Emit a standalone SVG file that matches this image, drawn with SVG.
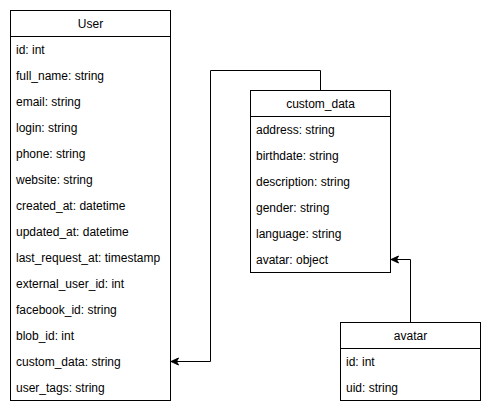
<svg xmlns="http://www.w3.org/2000/svg" width="491" height="414" viewBox="0 0 491 414">
<style>
.box{fill:#fff;stroke:#000;stroke-width:1}
.ln{stroke:#000;stroke-width:1;fill:none}
.t{font-family:"Liberation Sans",Arial,sans-serif;font-size:12px;fill:#000}
.h{text-anchor:middle}
.edge{stroke:#000;stroke-width:1;fill:none}
</style>
<defs>
<marker id="arr" markerUnits="userSpaceOnUse" markerWidth="10" markerHeight="10" viewBox="0 0 10 10" refX="8.5" refY="5" orient="auto">
<path d="M1,1.5 L8.5,5 L1,8.5 L3,5 z" fill="#000" stroke="#000" stroke-width="1"/>
</marker>
</defs>
<rect width="491" height="414" fill="#fff"/>
<g id="connectors">
<path class="edge" d="M320.5,90 V70.5 H210.5 V361.5 H171" marker-end="url(#arr)"/>
<path class="edge" d="M410.5,322 V259.5 H391" marker-end="url(#arr)"/>
</g>
<g id="User">
<rect class="box" x="10.5" y="10.5" width="160" height="390"/>
<line class="ln" x1="10.5" y1="36.5" x2="170.5" y2="36.5"/>
<text class="t h" x="90.5" y="27.5">User</text>
<text class="t" x="16" y="54">id: int</text>
<text class="t" x="16" y="80">full_name: string</text>
<text class="t" x="16" y="106">email: string</text>
<text class="t" x="16" y="132">login: string</text>
<text class="t" x="16" y="158">phone: string</text>
<text class="t" x="16" y="184">website: string</text>
<text class="t" x="16" y="210">created_at: datetime</text>
<text class="t" x="16" y="236">updated_at: datetime</text>
<text class="t" x="16" y="262">last_request_at: timestamp</text>
<text class="t" x="16" y="288">external_user_id: int</text>
<text class="t" x="16" y="314">facebook_id: string</text>
<text class="t" x="16" y="340">blob_id: int</text>
<text class="t" x="16" y="366">custom_data: string</text>
<text class="t" x="16" y="392">user_tags: string</text>
</g>
<g id="custom_data">
<rect class="box" x="250.5" y="90.5" width="140" height="182"/>
<line class="ln" x1="250.5" y1="116.5" x2="390.5" y2="116.5"/>
<text class="t h" x="320.5" y="107.5">custom_data</text>
<text class="t" x="256" y="134">address: string</text>
<text class="t" x="256" y="160">birthdate: string</text>
<text class="t" x="256" y="186">description: string</text>
<text class="t" x="256" y="212">gender: string</text>
<text class="t" x="256" y="238">language: string</text>
<text class="t" x="256" y="264">avatar: object</text>
</g>
<g id="avatar">
<rect class="box" x="340.5" y="322.5" width="140" height="78"/>
<line class="ln" x1="340.5" y1="348.5" x2="480.5" y2="348.5"/>
<text class="t h" x="410.5" y="339.5">avatar</text>
<text class="t" x="346" y="366">id: int</text>
<text class="t" x="346" y="392">uid: string</text>
</g>
</svg>
